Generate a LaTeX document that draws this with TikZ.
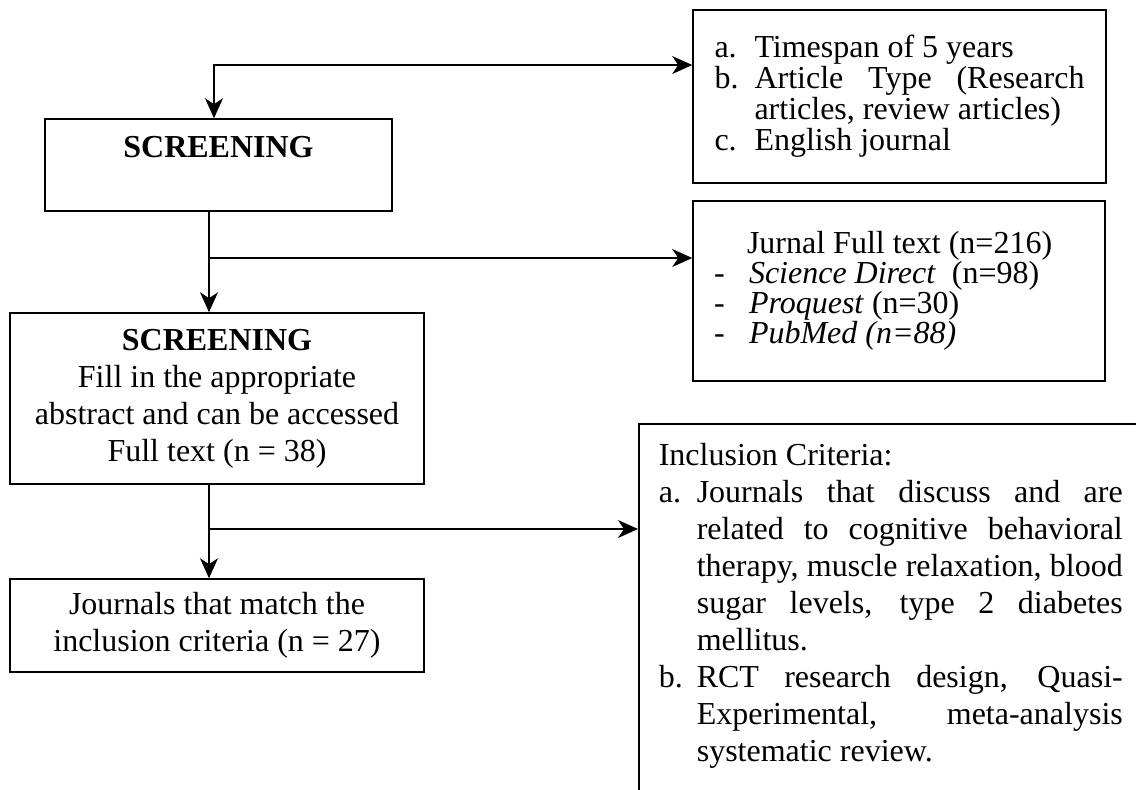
\documentclass[tikz,border=0pt]{standalone}
\usepackage{fontspec}
\setmainfont{Liberation Serif}
\usetikzlibrary{arrows.meta,positioning,calc}
\newcommand{\jline}[2]{\makebox[#1][s]{\spaceskip=0pt\relax #2}}

\begin{document}
\begin{tikzpicture}[x=0.5pt,y=-0.5pt,
  box/.style={draw,line width=0.8pt,inner sep=0pt,align=center,
    font=\fontsize{16pt}{18.5pt}\selectfont},
  arr/.style={-{Stealth[length=10pt,width=9pt,inset=3pt]},line width=0.7pt},
  twoarr/.style={{Stealth[length=10pt,width=9pt,inset=3pt]}-{Stealth[length=10pt,width=9pt,inset=3pt]},line width=0.7pt}]
\clip (0,0) rectangle (1136,789);
\node[box,minimum width=173.5pt,minimum height=46pt] (scr1) at (218.5,165)
  {\textbf{SCREENING}\\\mbox{}};
\node[box,minimum width=206.5pt,minimum height=86.5pt,text width=185pt,align=flush left,
  font=\fontsize{16pt}{15.5pt}\selectfont] (crit) at (899.5,96.5)
  {\makebox[20pt][l]{a.}Timespan of 5 years\\
   \makebox[20pt][l]{b.}\jline{165pt}{Article Type (Research}\\
   \hspace*{20pt}articles, review articles)\\
   \makebox[20pt][l]{c.}English journal};
\node[box,minimum width=206pt,minimum height=90pt,text width=185pt,align=flush left,
  font=\fontsize{16pt}{15pt}\selectfont] (src) at (899,291)
  {\hspace*{16.5pt}Jurnal Full text (n=216)\\
   \makebox[17.5pt][l]{-}\textit{Science Direct}\ \ (n=98)\\
   \makebox[17.5pt][l]{-}\textit{Proquest} (n=30)\\
   \makebox[17.5pt][l]{-}\textit{PubMed (n=88)}};
\node[box,minimum width=207pt,minimum height=85.5pt] (scr2) at (217,398.5)
  {\textbf{SCREENING}\\Fill in the appropriate\\abstract and can be accessed\\Full text (n = 38)};
\node[box,minimum width=207pt,minimum height=46.5pt] (res) at (217,625.5)
  {Journals that match the\\inclusion criteria (n = 27)};
\node[box,anchor=north west,inner xsep=10pt,inner ysep=9.5pt,align=left] (incl) at (638,423)
  {\parbox[t][200pt][t]{232pt}{Inclusion Criteria:\\
   \makebox[19pt][l]{a.}\jline{213pt}{Journals that discuss and are}\\
   \hspace*{19pt}\jline{213pt}{related to cognitive behavioral}\\
   \hspace*{19pt}\jline{213pt}{therapy, muscle relaxation, blood}\\
   \hspace*{19pt}\jline{213pt}{sugar levels, type 2 diabetes}\\
   \hspace*{19pt}mellitus.\\
   \makebox[19pt][l]{b.}\jline{213pt}{RCT research design, Quasi-}\\
   \hspace*{19pt}\jline{213pt}{Experimental, meta-analysis}\\
   \hspace*{19pt}systematic review.}};
\coordinate (t1) at (214,65);
\coordinate (b1) at (209,258);
\coordinate (b2) at (209,529);
\draw[twoarr] (t1 |- scr1.north) -- (t1) -- (t1 -| crit.west);
\draw[arr] (b1 |- scr1.south) -- (b1 |- scr2.north);
\draw[arr] (b1) -- (b1 -| src.west);
\draw[arr] (b2 |- scr2.south) -- (b2 |- res.north);
\draw[arr] (b2) -- (b2 -| incl.west);
\end{tikzpicture}
\end{document}
